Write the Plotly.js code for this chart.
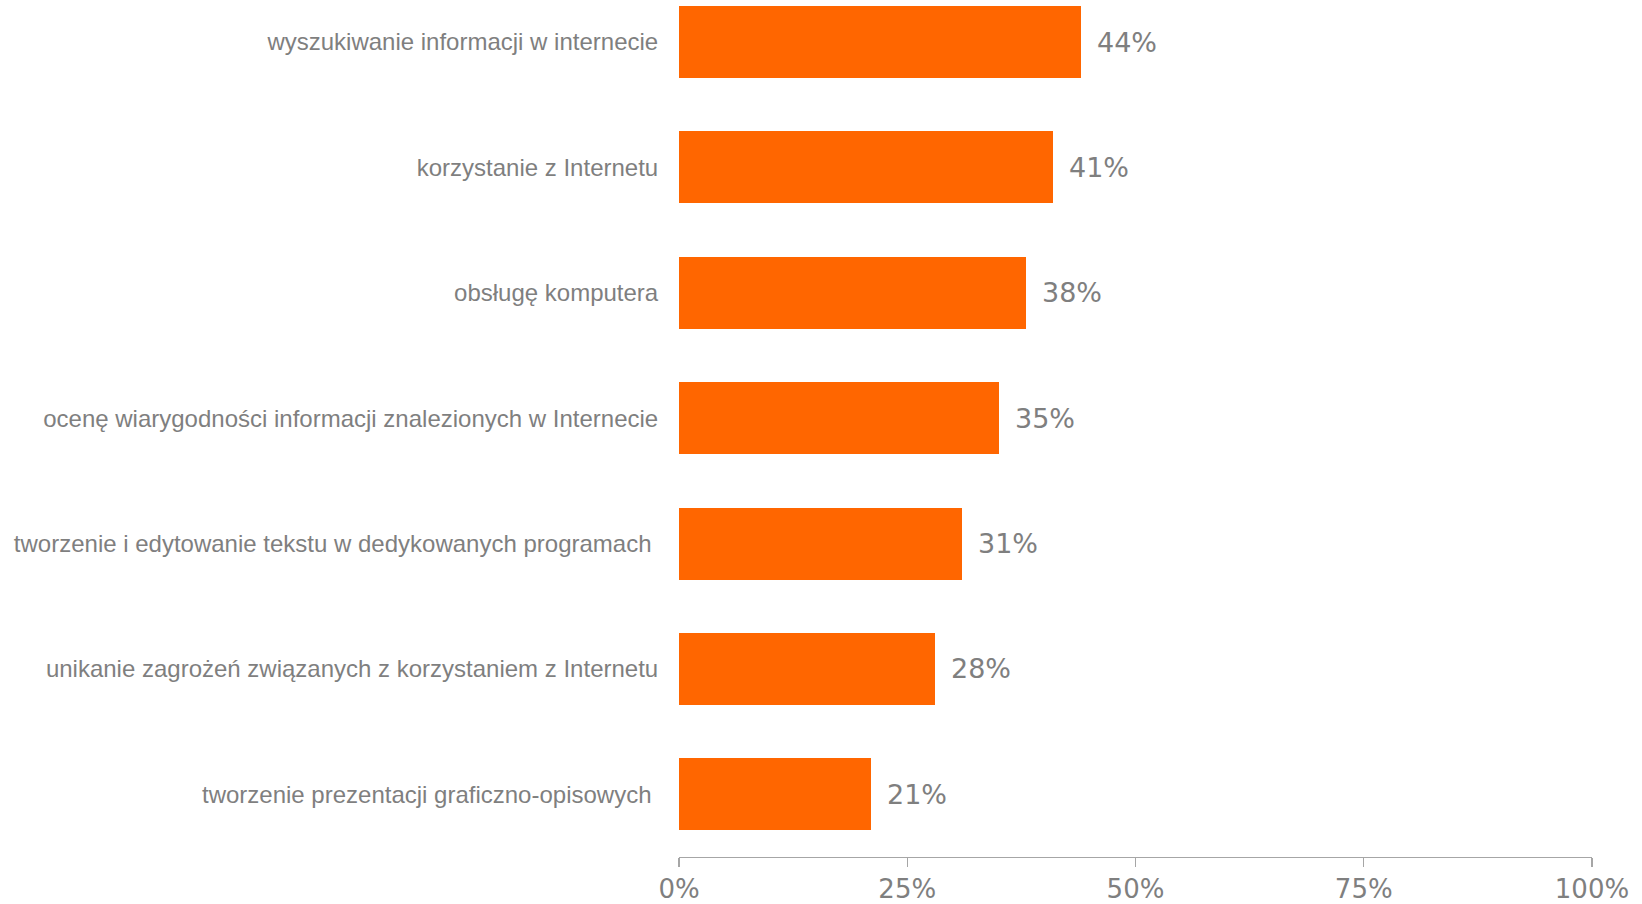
<!DOCTYPE html>
<html>
<head>
<meta charset="utf-8">
<script src="https://cdn.plot.ly/plotly-3.0.1.min.js"></script>
<style>
  html, body { margin: 0; padding: 0; background: #ffffff; }
  #chart { width: 1642px; height: 904px; }
</style>
</head>
<body>
<div id="chart"></div>
<script>
const categories = [
  "wyszukiwanie informacji w internecie",
  "korzystanie z Internetu",
  "obsługę komputera",
  "ocenę wiarygodności informacji znalezionych w Internecie",
  "tworzenie i edytowanie tekstu w dedykowanych programach\u00a0",
  "unikanie zagrożeń związanych z korzystaniem z Internetu",
  "tworzenie prezentacji graficzno-opisowych\u00a0"
];
const values = [0.44, 0.41, 0.38, 0.35, 0.31, 0.28, 0.21];
const valueLabels = ["44%", "41%", "38%", "35%", "31%", "28%", "21%"];
const xTickVals = [0, 0.25, 0.5, 0.75, 1];
const xTickText = ["0%", "25%", "50%", "75%", "100%"];

const textGray = "#7f7f7f";

const trace = {
  type: "bar",
  orientation: "h",
  x: values,
  y: categories,
  width: 0.574,
  marker: { color: "#ff6600" },
  hoverinfo: "skip"
};

const annotations = values.map((v, i) => ({
  x: v,
  y: categories[i],
  xref: "x",
  yref: "y",
  text: valueLabels[i],
  showarrow: false,
  xanchor: "left",
  yanchor: "middle",
  xshift: 14,
  font: { family: "DejaVu Sans", size: 27, color: textGray }
}));

const layout = {
  width: 1642,
  height: 904,
  margin: { l: 679, r: 50, t: 0, b: 47 },
  paper_bgcolor: "#ffffff",
  plot_bgcolor: "#ffffff",
  showlegend: false,
  bargap: 0,
  xaxis: {
    range: [0, 1],
    tickvals: xTickVals,
    ticktext: xTickText,
    showgrid: false,
    zeroline: false,
    showline: true,
    linecolor: "#a6a6a6",
    linewidth: 1.2,
    ticks: "outside",
    ticklen: 9,
    tickwidth: 1.2,
    tickcolor: "#a6a6a6",
    tickfont: { family: "DejaVu Sans", size: 26, color: textGray },
    fixedrange: true
  },
  yaxis: {
    type: "category",
    categoryorder: "array",
    categoryarray: categories,
    range: [6.5, -0.335],
    showgrid: false,
    zeroline: false,
    showline: false,
    ticks: "outside",
    ticklen: 15,
    tickcolor: "rgba(0,0,0,0)",
    tickfont: { family: "Liberation Sans, Arial, sans-serif", size: 24, color: textGray },
    fixedrange: true
  },
  annotations: annotations
};

Plotly.newPlot("chart", [trace], layout, { displayModeBar: false, staticPlot: true });
</script>
</body>
</html>
